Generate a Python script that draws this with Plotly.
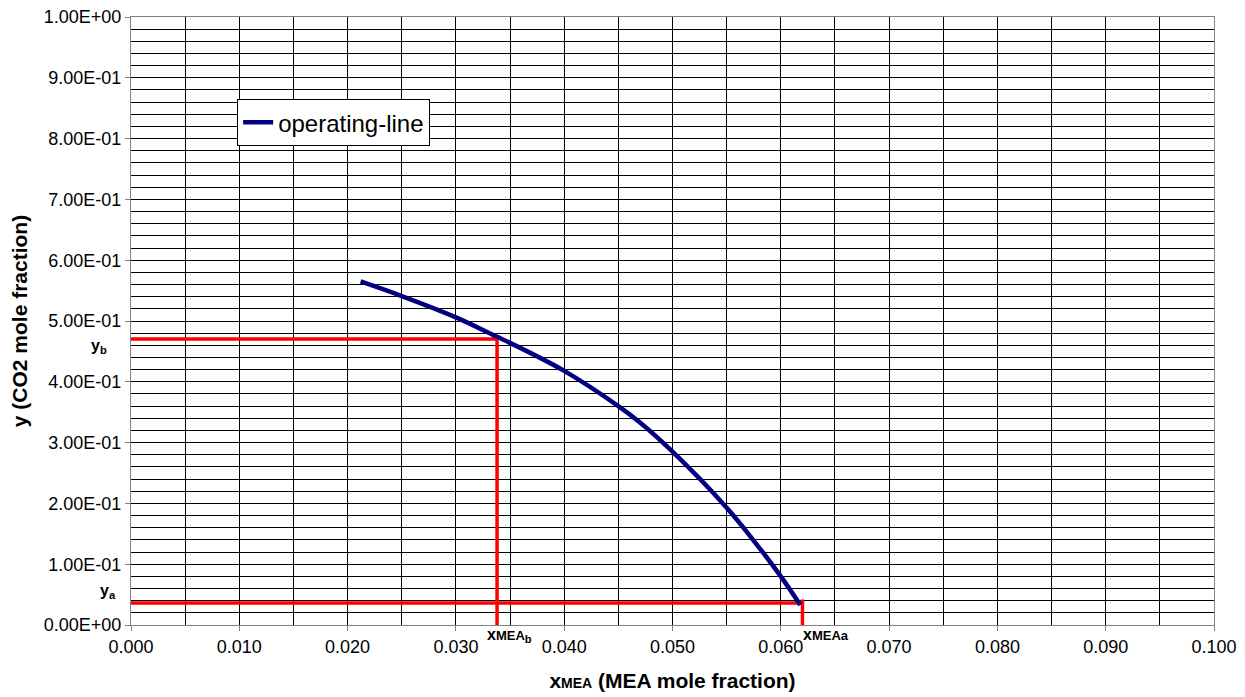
import plotly.graph_objects as go

# operating line
x_op = [0.0212, 0.025, 0.030, 0.0338, 0.035, 0.040, 0.045, 0.047, 0.050, 0.055, 0.0574, 0.060, 0.0618]
y_op = [0.565, 0.541, 0.506, 0.474, 0.464, 0.418, 0.360, 0.333, 0.285, 0.193, 0.141, 0.080, 0.033]

# construction points
x_b = 0.0338
y_b = 0.4704
x_a = 0.0620
y_a = 0.0361
y_a_tick = 0.042

y_tickvals = [0.0, 0.1, 0.2, 0.3, 0.4, 0.5, 0.6, 0.7, 0.8, 0.9, 1.0]
y_ticktext = ["0.00E+00", "1.00E-01", "2.00E-01", "3.00E-01", "4.00E-01", "5.00E-01",
              "6.00E-01", "7.00E-01", "8.00E-01", "9.00E-01", "1.00E+00"]
x_tickvals = [0.0, 0.01, 0.02, 0.03, 0.04, 0.05, 0.06, 0.07, 0.08, 0.09, 0.1]
x_ticktext = ["0.000", "0.010", "0.020", "0.030", "0.040", "0.050", "0.060", "0.070", "0.080", "0.090", "0.100"]

FONT = "Liberation Sans, Arial, sans-serif"
RED = "#ff0000"

fig = go.Figure()
fig.add_trace(go.Scatter(x=[0, x_b, x_b], y=[y_b, y_b, 0], mode="lines",
                         line=dict(color=RED, width=3.5), showlegend=False, hoverinfo="skip"))
fig.add_trace(go.Scatter(x=[0, x_a], y=[y_a, y_a], mode="lines",
                         line=dict(color=RED, width=3.5), showlegend=False, hoverinfo="skip"))
fig.add_trace(go.Scatter(x=[x_a, x_a], y=[0, y_a_tick], mode="lines",
                         line=dict(color=RED, width=3.5), showlegend=False, hoverinfo="skip"))
fig.add_trace(go.Scatter(x=x_op, y=y_op, mode="lines", name="operating-line",
                         line=dict(color="#000080", width=4.5, shape="spline", smoothing=1.0)))

lab_font = dict(family=FONT, size=16, color="black")
fig.add_annotation(x=0, y=y_b, xref="x", yref="y", text="<b>y<sub>b</sub></b>", showarrow=False,
                   xanchor="right", yanchor="middle", xshift=-22, yshift=-7, font=lab_font)
fig.add_annotation(x=0, y=y_a, xref="x", yref="y", text="<b>y<sub>a</sub></b>", showarrow=False,
                   xanchor="right", yanchor="middle", xshift=-13, yshift=12, font=lab_font)
fig.add_annotation(x=x_b, y=0, xref="x", yref="y",
                   text="<b>x<span style='font-size:13px'>MEA</span><sub>b</sub></b>", showarrow=False,
                   xanchor="left", yanchor="top", xshift=-12, yshift=1, font=lab_font)
fig.add_annotation(x=x_a, y=0, xref="x", yref="y",
                   text="<b>x<span style='font-size:13px'>MEAa</span></b>", showarrow=False,
                   xanchor="left", yanchor="top", xshift=-1, yshift=1, font=lab_font)

# page body has an 8px margin, so the figure is sized to fit the window exactly
fig.update_layout(
    width=1237, height=689,
    margin=dict(l=123, r=31, t=9, b=72),
    paper_bgcolor="white", plot_bgcolor="white",
    font=dict(family=FONT, size=18, color="black"),
    legend=dict(x=0.098, y=0.865, xanchor="left", yanchor="top",
                bgcolor="white", bordercolor="black", borderwidth=1,
                font=dict(family=FONT, size=24, color="black"),
                itemwidth=30, tracegroupgap=0),
    showlegend=True,
)
fig.update_xaxes(
    range=[0, 0.1], tickvals=x_tickvals, ticktext=x_ticktext, automargin=False,
    ticklabeloverflow="allow",
    showgrid=True, gridcolor="black", gridwidth=1,
    minor=dict(dtick=0.005, tick0=0, showgrid=True, gridcolor="black", gridwidth=1),
    showline=True, linecolor="#808080", linewidth=1, mirror=True,
    ticks="outside", ticklen=5, tickcolor="#808080", zeroline=False,
    tickfont=dict(family=FONT, size=18, color="black"),
    title=dict(text="<b>x<span style='font-size:14px'>MEA</span> (MEA mole fraction)</b>",
               font=dict(family=FONT, size=21, color="black"), standoff=17),
)
fig.update_yaxes(
    range=[0, 1.0], tickvals=y_tickvals, ticktext=y_ticktext, automargin=False,
    ticklabeloverflow="allow",
    showgrid=True, gridcolor="black", gridwidth=1,
    minor=dict(dtick=0.02, tick0=0, showgrid=True, gridcolor="black", gridwidth=1),
    showline=True, linecolor="#808080", linewidth=1, mirror=True,
    ticks="outside", ticklen=5, tickcolor="#808080", zeroline=False,
    tickfont=dict(family=FONT, size=18, color="black"),
    title=dict(text="<b>y (CO2 mole fraction)</b>",
               font=dict(family=FONT, size=21, color="black"), standoff=14),
)

fig.write_html("out.html")
